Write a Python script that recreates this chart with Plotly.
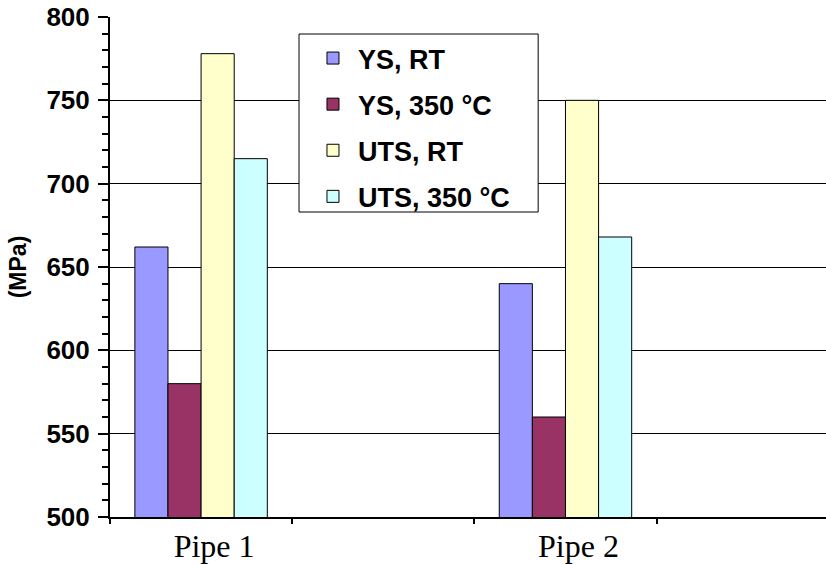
import plotly.graph_objects as go

categories = ["Pipe 1", "Pipe 2"]
axis_categories = ["Pipe 1", " ", "Pipe 2", "  "]
series_names = ["YS, RT", "YS, 350 °C", "UTS, RT", "UTS, 350 °C"]
series_values = [
    [662, 640],
    [580, 560],
    [778, 750],
    [715, 668],
]
colors = ["#9999FF", "#993366", "#FFFFCC", "#CCFFFF"]

fig = go.Figure()
for i, (name, vals, c) in enumerate(zip(series_names, series_values, colors)):
    fig.add_trace(go.Bar(
        x=categories, y=vals, name=name,
        marker=dict(color=c, line=dict(color="black", width=1)),
        legendgroup=str(i),
    ))

# legend frame
fig.add_shape(type="rect", xref="paper", yref="paper",
              x0=0.264, x1=0.598, y0=0.610, y1=0.966,
              line=dict(color="black", width=1), fillcolor="white", layer="above")

fig.update_layout(
    width=826, height=564,
    margin=dict(l=110, r=0, t=17, b=47),
    plot_bgcolor="white", paper_bgcolor="white",
    barmode="group", bargap=0.273, bargroupgap=0,
    showlegend=True,
    legend=dict(
        x=0.2765, y=0.966, xanchor="left", yanchor="top",
        bgcolor="rgba(0,0,0,0)", borderwidth=0,
        font=dict(family="Liberation Sans, Arial", size=27, color="black", weight="bold"),
        traceorder="grouped", tracegroupgap=8,
        itemwidth=40,
    ),
    xaxis=dict(
        type="category", categoryorder="array", categoryarray=axis_categories,
        range=[-0.5, 3.43],
        tickson="boundaries", ticks="outside", ticklen=5, tickwidth=2, tickcolor="black",
        showline=True, linecolor="black", linewidth=2,
        showgrid=False,
        ticklabelshift=13,
        tickfont=dict(family="Liberation Serif, Times New Roman", size=32, color="black"),
    ),
    yaxis=dict(
        range=[500, 800], dtick=50, tick0=500,
        ticks="outside", ticklen=10, tickwidth=2, tickcolor="black",
        showline=True, linecolor="black", linewidth=2,
        showgrid=True, gridcolor="black", gridwidth=1,
        zeroline=False,
        ticklabelstandoff=3,
        minor=dict(dtick=10, ticks="outside", ticklen=6, tickwidth=2, tickcolor="black", showgrid=False),
        tickfont=dict(family="Liberation Sans, Arial", size=26, color="black", weight="bold"),
        title=dict(text="(MPa)", standoff=13,
                   font=dict(family="Liberation Sans, Arial", size=23, color="black", weight="bold")),
    ),
)

fig.write_html("out.html")
